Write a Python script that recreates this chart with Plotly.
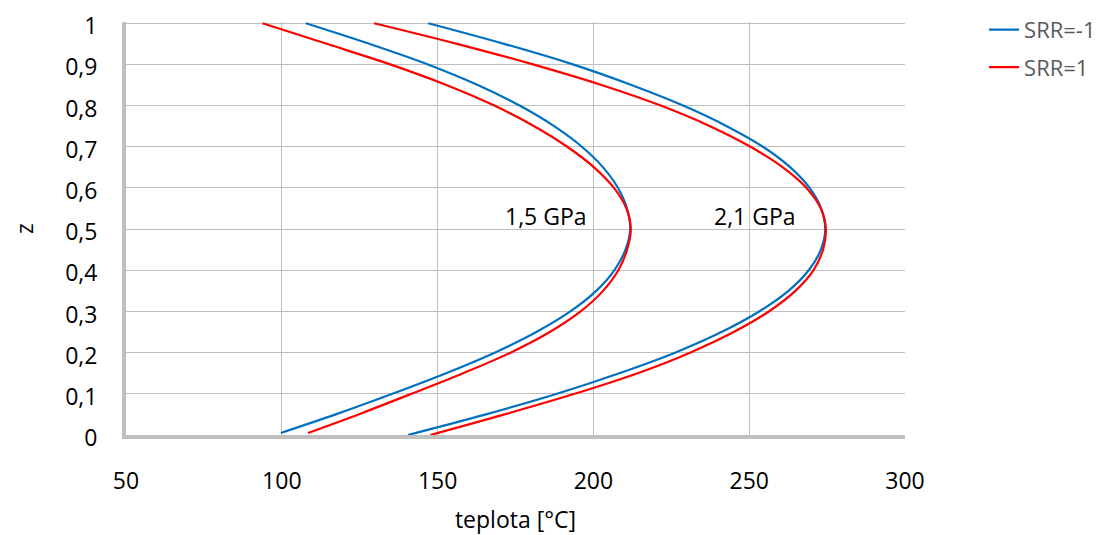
import plotly.graph_objects as go

# z positions (vertical axis)
z_15 = [0.005, 0.05, 0.1, 0.15, 0.2, 0.25, 0.3, 0.35, 0.4, 0.45, 0.5,
        0.55, 0.6, 0.65, 0.7, 0.75, 0.8, 0.85, 0.9, 0.95, 1.0]
z_21 = [0.0, 0.05, 0.1, 0.15, 0.2, 0.25, 0.3, 0.35, 0.4, 0.45, 0.5,
        0.55, 0.6, 0.65, 0.7, 0.75, 0.8, 0.85, 0.9, 0.95, 1.0]

# temperatures [°C]
t_15_srr_m1 = [99.7, 117.3, 135.5, 152.7, 168.3, 181.7, 192.6, 200.9, 206.7, 210.3, 211.8,
               210.8, 207.9, 203.1, 196.3, 187.4, 176.3, 162.9, 146.9, 128.1, 107.7]
t_15_srr_p1 = [108.4, 124.6, 141.6, 158.2, 173.4, 186.0, 195.9, 203.1, 208.0, 210.8, 212.0,
               210.6, 206.6, 200.2, 191.6, 181.0, 168.2, 152.8, 134.8, 114.4, 93.8]
t_21_srr_m1 = [140.5, 165.5, 188.3, 208.3, 226.2, 241.1, 253.2, 262.6, 269.1, 273.0, 274.4,
               273.1, 269.4, 263.2, 254.4, 242.8, 228.8, 212.2, 193.4, 171.3, 147.0]
t_21_srr_p1 = [147.7, 171.5, 194.0, 214.2, 231.0, 245.0, 256.3, 264.8, 270.6, 273.7, 274.6,
               273.0, 268.4, 260.8, 250.4, 237.4, 221.6, 202.6, 180.6, 156.2, 129.6]

series_names = ["SRR=-1", "SRR=1"]
pressure_labels = ["1,5 GPa", "2,1 GPa"]
label_pos_t = [198.5, 265.5]
label_pos_z = [0.532, 0.532]

x_ticks = [50, 100, 150, 200, 250, 300]
y_ticks = [0, 0.1, 0.2, 0.3, 0.4, 0.5, 0.6, 0.7, 0.8, 0.9, 1]

BLUE = "#0070C0"
RED = "#FF0000"
FONT = "Open Sans, Liberation Sans, sans-serif"
FS = 23

fig = go.Figure()
fig.add_trace(go.Scatter(x=t_15_srr_m1, y=z_15, mode="lines", name=series_names[0],
                         line=dict(color=BLUE, width=2.2, shape="spline"),
                         legendgroup="a"))
fig.add_trace(go.Scatter(x=t_15_srr_p1, y=z_15, mode="lines", name=series_names[1],
                         line=dict(color=RED, width=2.2, shape="spline"),
                         legendgroup="b"))
fig.add_trace(go.Scatter(x=t_21_srr_m1, y=z_21, mode="lines", name=series_names[0],
                         line=dict(color=BLUE, width=2.2, shape="spline"),
                         legendgroup="a", showlegend=False))
fig.add_trace(go.Scatter(x=t_21_srr_p1, y=z_21, mode="lines", name=series_names[1],
                         line=dict(color=RED, width=2.2, shape="spline"),
                         legendgroup="b", showlegend=False))

for lbl, tx, tz in zip(pressure_labels, label_pos_t, label_pos_z):
    fig.add_annotation(x=tx, y=tz, text=lbl, showarrow=False, xanchor="right",
                       yanchor="middle", font=dict(family=FONT, size=FS, color="#000000"))

fig.update_layout(
    width=1097, height=527,
    margin=dict(l=118, r=200, t=14, b=100, autoexpand=False),
    paper_bgcolor="white", plot_bgcolor="white",
    separators=", ",
    font=dict(family=FONT, size=FS, color="#000000"),
    legend=dict(x=1.1015, y=1.032, xanchor="left", yanchor="top",
                font=dict(family=FONT, size=22, color="#595959"),
                tracegroupgap=6, traceorder="grouped", bgcolor="rgba(0,0,0,0)"),
    xaxis=dict(range=[50, 300], tickvals=x_ticks, showgrid=True, gridcolor="#bfbfbf",
               gridwidth=1.3, zeroline=False, showline=True, linecolor="#bfbfbf",
               linewidth=4, ticks="", ticklabelstandoff=22, automargin=False,
               ticklabeloverflow="allow",
               title=dict(text="teplota [°C]", standoff=23,
                          font=dict(family=FONT, size=FS, color="#000000"))),
    yaxis=dict(range=[0, 1.003], tickvals=y_ticks, showgrid=True, gridcolor="#bfbfbf",
               gridwidth=1.3, zeroline=False, showline=True, linecolor="#bfbfbf",
               linewidth=4, ticks="", ticklabelstandoff=20, automargin=False,
               ticklabeloverflow="allow", ticklabelshift=3,
               title=dict(text="z", standoff=27,
                          font=dict(family=FONT, size=FS, color="#000000"))),
)

fig.write_html("out.html")
